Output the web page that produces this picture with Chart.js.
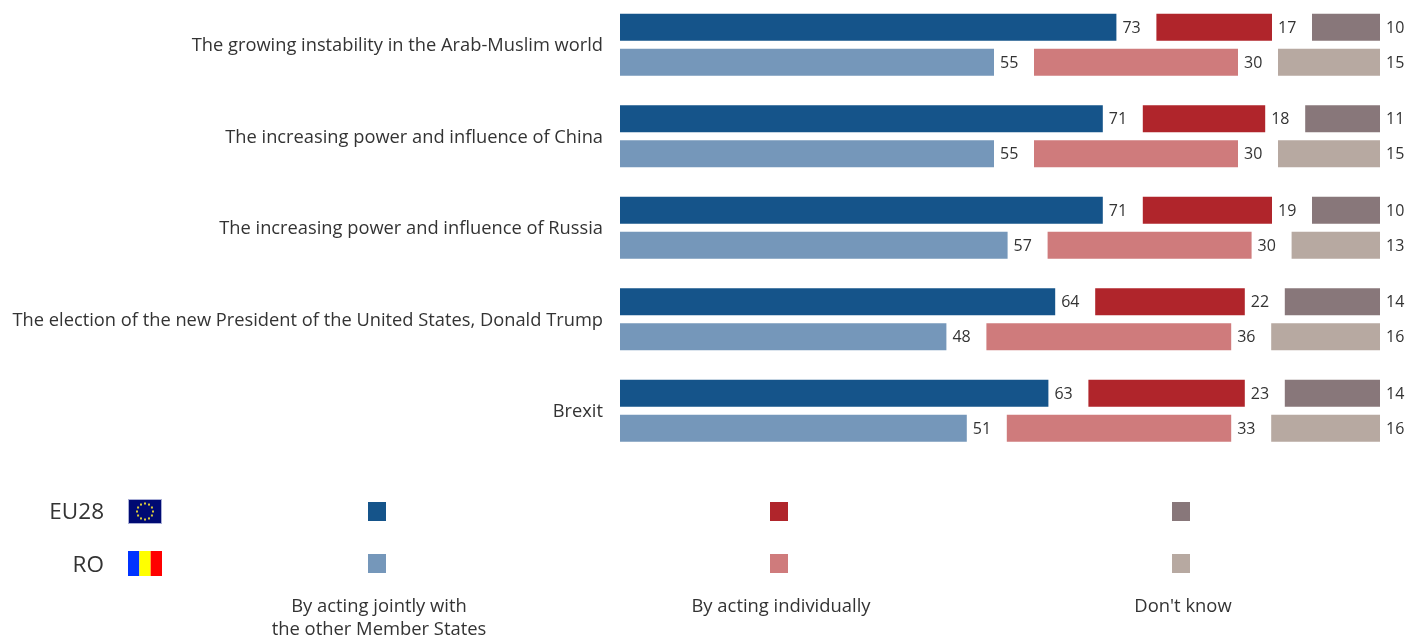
<!DOCTYPE html>
<html>
<head>
<meta charset="utf-8">
<title>Chart</title>
<script src="https://cdn.jsdelivr.net/npm/chart.js@4"></script>
<style>
    html, body { margin: 0; padding: 0; background: #fff; overflow: hidden; }
    canvas { display: block; margin-top: -1px; }
</style>
</head>
<body>
<canvas id="myChart" width="1407" height="637"></canvas>
<script>
const categories = [
    'The growing instability in the Arab-Muslim world',
    'The increasing power and influence of China',
    'The increasing power and influence of Russia',
    'The election of the new President of the United States, Donald Trump',
    'Brexit'
];

const euJointly = [73, 71, 71, 64, 63];
const euIndividually = [17, 18, 19, 22, 23];
const euDontKnow = [10, 11, 10, 14, 14];

const roJointly = [55, 55, 57, 48, 51];
const roIndividually = [30, 30, 30, 36, 33];
const roDontKnow = [15, 15, 13, 16, 16];

const legendRows = ['EU28', 'RO'];
const legendColumns = [['By acting jointly with', 'the other Member States'], ['By acting individually'], ["Don't know"]];

const colors = {
    eu: ['#15548a', '#b0252b', '#88777a'],
    ro: ['#7597ba', '#cf7b7c', '#b7a9a1']
};
const textColor = '#333333';
const fontName = '"Open Sans", sans-serif';

// empty space between two segments, in axis units (40px at 6.8px per unit)
const gap = 40 / 6.8;

function segment(stack, values, color) {
    return { stack: stack, data: values, backgroundColor: color, showValue: true };
}

function spacer(stack) {
    return { stack: stack, data: categories.map(() => gap), backgroundColor: 'transparent', showValue: false };
}

function drawFlagEu(ctx, x, y, w, h) {
    ctx.fillStyle = '#000a73';
    ctx.fillRect(x, y, w, h);
    ctx.strokeStyle = '#a9aed6';
    ctx.lineWidth = 1;
    ctx.strokeRect(x + 0.5, y + 0.5, w - 1, h - 1);
    ctx.fillStyle = '#d8c93a';
    for (let i = 0; i < 12; i++) {
        let a = i * Math.PI / 6;
        ctx.fillRect(x + w / 2 + Math.cos(a) * 8 - 1, y + h / 2 + Math.sin(a) * 8 - 1, 2, 2);
    }
}

function drawFlagRo(ctx, x, y, w, h) {
    const stripes = ['#0033ff', '#ffff00', '#ff0000'];
    stripes.forEach((c, i) => {
        ctx.fillStyle = c;
        ctx.fillRect(x + i * w / 3, y, w / 3, h);
    });
}

// value next to each bar
const valueLabels = {
    id: 'valueLabels',
    afterDatasetsDraw(chart) {
        const ctx = chart.ctx;
        ctx.save();
        ctx.font = '16px ' + fontName;
        ctx.fillStyle = textColor;
        ctx.textAlign = 'left';
        ctx.textBaseline = 'middle';
        chart.data.datasets.forEach((ds, d) => {
            if (!ds.showValue) return;
            chart.getDatasetMeta(d).data.forEach((bar, i) => {
                ctx.fillText(ds.data[i], bar.x + 6, bar.y + 1);
            });
        });
        ctx.restore();
    }
};

// hand made legend, squares in a grid below the bars
const legendGrid = {
    id: 'legendGrid',
    afterDraw(chart) {
        const ctx = chart.ctx;
        const columnX = [379, 781, 1183];
        const rowY = [513, 565];
        ctx.save();
        ctx.fillStyle = textColor;
        ctx.textBaseline = 'middle';
        ctx.textAlign = 'right';
        ctx.font = '22.5px ' + fontName;
        ctx.fillText(legendRows[0], 104, rowY[0] + 1);
        ctx.fillText(legendRows[1], 104, rowY[1] + 2);
        drawFlagEu(ctx, 128, rowY[0] - 13, 34, 25);
        drawFlagRo(ctx, 128, rowY[1] - 13, 34, 25);
        [colors.eu, colors.ro].forEach((row, r) => {
            row.forEach((c, k) => {
                ctx.fillStyle = c;
                ctx.fillRect(columnX[k] - 11, rowY[r] - 10, 18, 19);
            });
        });
        ctx.fillStyle = textColor;
        ctx.textAlign = 'center';
        ctx.font = '18.4px ' + fontName;
        legendColumns.forEach((lines, k) => {
            lines.forEach((line, l) => {
                ctx.fillText(line, columnX[k], 608 + l * 23);
            });
        });
        ctx.restore();
    }
};

const ctx = document.getElementById('myChart');
const myChart = new Chart(ctx, {
    type: 'bar',
    data: {
        labels: categories,
        datasets: [
            segment('eu', euJointly, colors.eu[0]),
            spacer('eu'),
            segment('eu', euIndividually, colors.eu[1]),
            spacer('eu'),
            segment('eu', euDontKnow, colors.eu[2]),
            segment('ro', roJointly, colors.ro[0]),
            spacer('ro'),
            segment('ro', roIndividually, colors.ro[1]),
            spacer('ro'),
            segment('ro', roDontKnow, colors.ro[2])
        ]
    },
    options: {
        indexAxis: 'y',
        responsive: false,
        animation: false,
        categoryPercentage: 0.765,
        barPercentage: 0.771,
        layout: {
            padding: { top: 0, right: 27, bottom: 179.5, left: 0 }
        },
        scales: {
            x: {
                stacked: true,
                display: false,
                min: 0,
                max: 100 + 2 * gap
            },
            y: {
                stacked: true,
                grid: { display: false, drawTicks: false },
                border: { display: false },
                afterFit(scale) {
                    scale.width = 620;
                    scale.paddingTop = 0;
                    scale.paddingBottom = 0;
                },
                ticks: {
                    padding: 17,
                    labelOffset: 1.5,
                    color: textColor,
                    font: { family: fontName, size: 18.3 }
                }
            }
        },
        plugins: {
            legend: { display: false },
            tooltip: { enabled: false }
        }
    },
    plugins: [valueLabels, legendGrid]
});
</script>
</body>
</html>
